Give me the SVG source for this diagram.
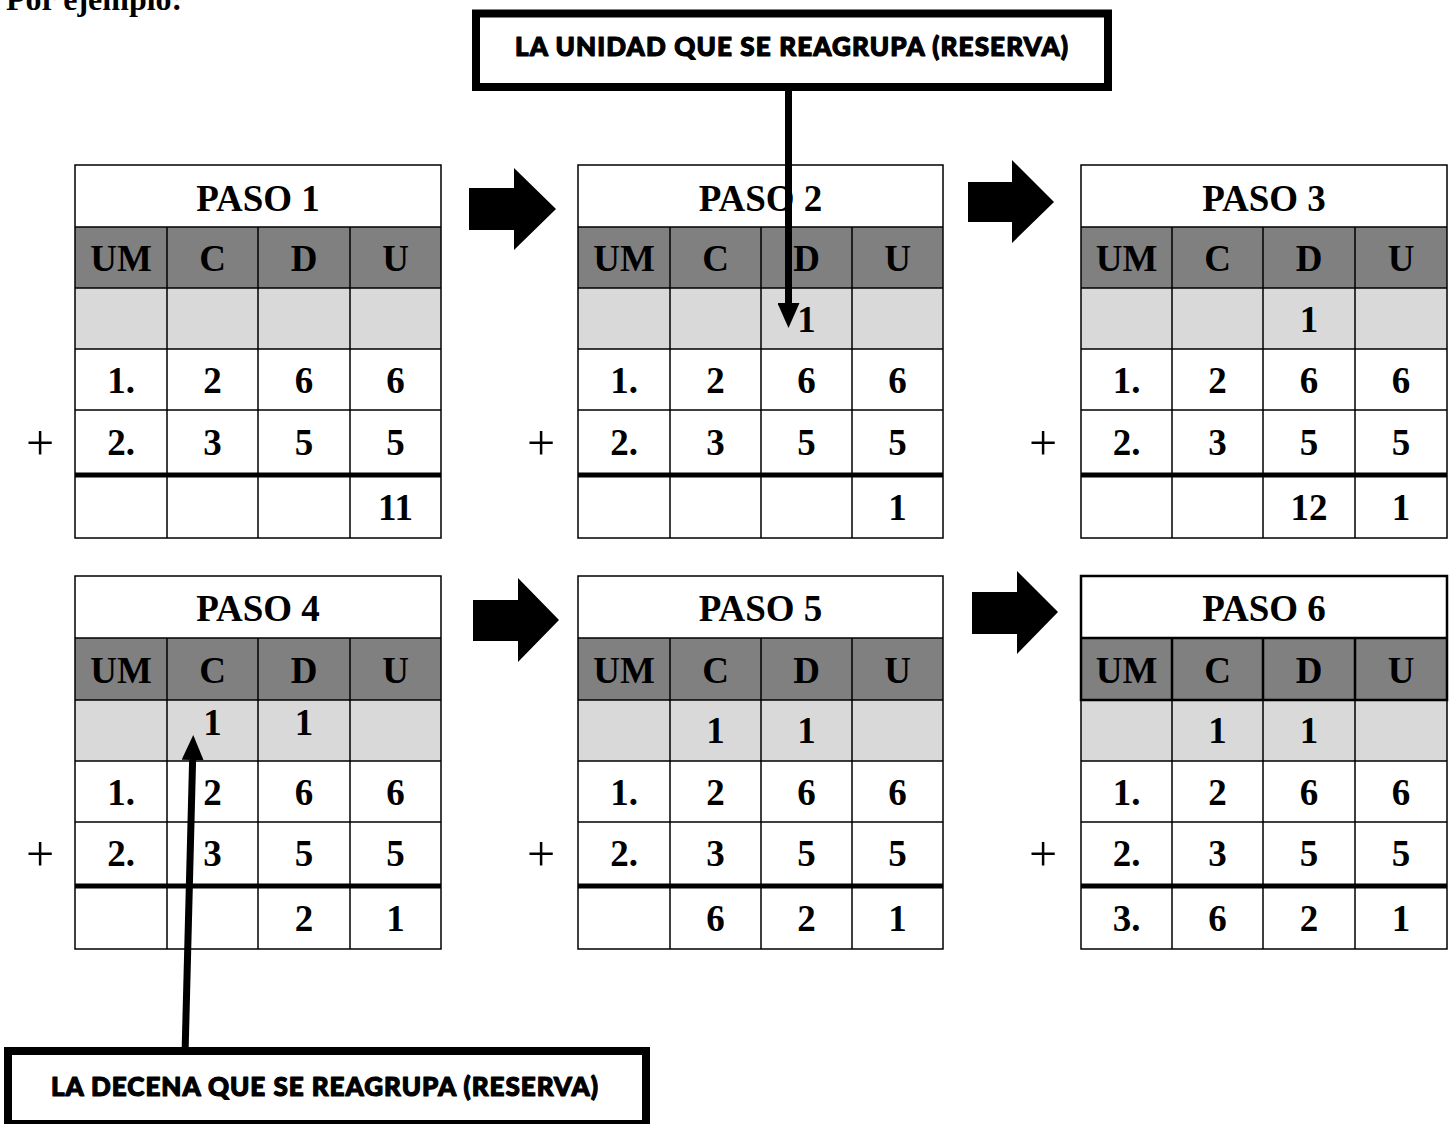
<svg xmlns="http://www.w3.org/2000/svg" width="1452" height="1124" viewBox="0 0 1452 1124">
<style>
.t{font-family:"Liberation Serif","Times New Roman",serif;font-weight:bold;font-size:37px;text-anchor:middle;fill:#000}
.plus{font-family:"Liberation Serif","Times New Roman",serif;font-size:50px;text-anchor:middle;fill:#000}
.head{font-family:"Liberation Serif","Times New Roman",serif;font-weight:bold;font-size:32px;fill:#000}
.call{font-family:Lato,"Liberation Sans",Arial,sans-serif;font-weight:900;font-size:26px;fill:#000;stroke:#000;stroke-width:1.2;stroke-linejoin:round}
.grid{fill:none;stroke:#000;stroke-width:1.5}
.gridb{fill:none;stroke:#000;stroke-width:2.5}
.thick{fill:none;stroke:#000;stroke-width:5}
.hd{fill:#808080}
.cr{fill:#d9d9d9}
.wh{fill:#fff}
.box{fill:#fff;stroke:#000;stroke-width:8}
.conn{fill:none;stroke:#000;stroke-width:7}
.blk{fill:#000}
</style>
<defs>
<marker id="ah" markerUnits="userSpaceOnUse" markerWidth="25" markerHeight="22" refX="0" refY="11" orient="auto">
<path d="M0,0 L25,11 L0,22 Z" fill="#000"/>
</marker>
</defs>
<rect width="1452" height="1124" fill="#fff"/>
<text class="head" x="6" y="10">Por ejemplo:</text>

<g id="callout-unidad">
<rect class="box" x="476" y="13.5" width="632" height="73.5"/>
<text class="call" x="515" y="55.5" textLength="553" lengthAdjust="spacing">LA UNIDAD QUE SE REAGRUPA (RESERVA)</text>
</g>

<g id="paso1">
<rect class="wh" x="75" y="165" width="366" height="373"/>
<rect class="hd" x="75" y="227" width="366" height="61"/>
<rect class="cr" x="75" y="288" width="366" height="61"/>
<path class="grid" d="M75,165H441V538H75Z M75,227H441 M75,288H441 M75,349H441 M75,410H441 M167,227V538 M258,227V538 M350,227V538"/>
<path class="thick" d="M75,475H441"/>
<text class="t" x="258" y="211">PASO 1</text>
<text class="t" x="121" y="271">UM</text><text class="t" x="212.5" y="271">C</text><text class="t" x="304" y="271">D</text><text class="t" x="395.5" y="271">U</text>
<text class="t" x="121" y="393">1.</text><text class="t" x="212.5" y="393">2</text><text class="t" x="304" y="393">6</text><text class="t" x="395.5" y="393">6</text>
<text class="t" x="121" y="455">2.</text><text class="t" x="212.5" y="455">3</text><text class="t" x="304" y="455">5</text><text class="t" x="395.5" y="455">5</text>
<text class="t" x="395.5" y="520">11</text>
<text class="plus" x="40" y="460">+</text>
</g>

<g id="paso2">
<rect class="wh" x="578" y="165" width="365" height="373"/>
<rect class="hd" x="578" y="227" width="365" height="61"/>
<rect class="cr" x="578" y="288" width="365" height="61"/>
<path class="grid" d="M578,165H943V538H578Z M578,227H943 M578,288H943 M578,349H943 M578,410H943 M670,227V538 M761,227V538 M852,227V538"/>
<path class="thick" d="M578,475H943"/>
<text class="t" x="760.5" y="211">PASO 2</text>
<text class="t" x="624" y="271">UM</text><text class="t" x="715.5" y="271">C</text><text class="t" x="806.5" y="271">D</text><text class="t" x="897.5" y="271">U</text>
<text class="t" x="806.5" y="332">1</text>
<text class="t" x="624" y="393">1.</text><text class="t" x="715.5" y="393">2</text><text class="t" x="806.5" y="393">6</text><text class="t" x="897.5" y="393">6</text>
<text class="t" x="624" y="455">2.</text><text class="t" x="715.5" y="455">3</text><text class="t" x="806.5" y="455">5</text><text class="t" x="897.5" y="455">5</text>
<text class="t" x="897.5" y="520">1</text>
<text class="plus" x="541" y="460">+</text>
</g>

<g id="paso3">
<rect class="wh" x="1081" y="165" width="366" height="373"/>
<rect class="hd" x="1081" y="227" width="366" height="61"/>
<rect class="cr" x="1081" y="288" width="366" height="61"/>
<path class="grid" d="M1081,165H1447V538H1081Z M1081,227H1447 M1081,288H1447 M1081,349H1447 M1081,410H1447 M1172,227V538 M1263,227V538 M1355,227V538"/>
<path class="thick" d="M1081,475H1447"/>
<text class="t" x="1264" y="211">PASO 3</text>
<text class="t" x="1126.5" y="271">UM</text><text class="t" x="1217.5" y="271">C</text><text class="t" x="1309" y="271">D</text><text class="t" x="1401" y="271">U</text>
<text class="t" x="1309" y="332">1</text>
<text class="t" x="1126.5" y="393">1.</text><text class="t" x="1217.5" y="393">2</text><text class="t" x="1309" y="393">6</text><text class="t" x="1401" y="393">6</text>
<text class="t" x="1126.5" y="455">2.</text><text class="t" x="1217.5" y="455">3</text><text class="t" x="1309" y="455">5</text><text class="t" x="1401" y="455">5</text>
<text class="t" x="1309" y="520">12</text><text class="t" x="1401" y="520">1</text>
<text class="plus" x="1043" y="460">+</text>
</g>

<g id="paso4">
<rect class="wh" x="75" y="576" width="366" height="373"/>
<rect class="hd" x="75" y="638" width="366" height="62"/>
<rect class="cr" x="75" y="700" width="366" height="61"/>
<path class="grid" d="M75,576H441V949H75Z M75,638H441 M75,700H441 M75,761H441 M75,822H441 M167,638V949 M258,638V949 M350,638V949"/>
<path class="thick" d="M75,886H441"/>
<text class="t" x="258" y="621">PASO 4</text>
<text class="t" x="121" y="683">UM</text><text class="t" x="212.5" y="683">C</text><text class="t" x="304" y="683">D</text><text class="t" x="395.5" y="683">U</text>
<text class="t" x="212.5" y="735">1</text><text class="t" x="304" y="735">1</text>
<text class="t" x="121" y="805">1.</text><text class="t" x="212.5" y="805">2</text><text class="t" x="304" y="805">6</text><text class="t" x="395.5" y="805">6</text>
<text class="t" x="121" y="866">2.</text><text class="t" x="212.5" y="866">3</text><text class="t" x="304" y="866">5</text><text class="t" x="395.5" y="866">5</text>
<text class="t" x="304" y="931">2</text><text class="t" x="395.5" y="931">1</text>
<text class="plus" x="40" y="871">+</text>
</g>

<g id="paso5">
<rect class="wh" x="578" y="576" width="365" height="373"/>
<rect class="hd" x="578" y="638" width="365" height="62"/>
<rect class="cr" x="578" y="700" width="365" height="61"/>
<path class="grid" d="M578,576H943V949H578Z M578,638H943 M578,700H943 M578,761H943 M578,822H943 M670,638V949 M761,638V949 M852,638V949"/>
<path class="thick" d="M578,886H943"/>
<text class="t" x="760.5" y="621">PASO 5</text>
<text class="t" x="624" y="683">UM</text><text class="t" x="715.5" y="683">C</text><text class="t" x="806.5" y="683">D</text><text class="t" x="897.5" y="683">U</text>
<text class="t" x="715.5" y="743">1</text><text class="t" x="806.5" y="743">1</text>
<text class="t" x="624" y="805">1.</text><text class="t" x="715.5" y="805">2</text><text class="t" x="806.5" y="805">6</text><text class="t" x="897.5" y="805">6</text>
<text class="t" x="624" y="866">2.</text><text class="t" x="715.5" y="866">3</text><text class="t" x="806.5" y="866">5</text><text class="t" x="897.5" y="866">5</text>
<text class="t" x="715.5" y="931">6</text><text class="t" x="806.5" y="931">2</text><text class="t" x="897.5" y="931">1</text>
<text class="plus" x="541" y="871">+</text>
</g>

<g id="paso6">
<rect class="wh" x="1081" y="576" width="366" height="373"/>
<rect class="hd" x="1081" y="638" width="366" height="62"/>
<rect class="cr" x="1081" y="700" width="366" height="61"/>
<path class="grid" d="M1081,576H1447V949H1081Z M1081,761H1447 M1081,822H1447 M1172,638V949 M1263,638V949 M1355,638V949"/>
<path class="gridb" d="M1081,576H1447V700H1081Z M1081,638H1447 M1172,638V700 M1263,638V700 M1355,638V700"/>
<path class="thick" d="M1081,886H1447"/>
<text class="t" x="1264" y="621">PASO 6</text>
<text class="t" x="1126.5" y="683">UM</text><text class="t" x="1217.5" y="683">C</text><text class="t" x="1309" y="683">D</text><text class="t" x="1401" y="683">U</text>
<text class="t" x="1217.5" y="743">1</text><text class="t" x="1309" y="743">1</text>
<text class="t" x="1126.5" y="805">1.</text><text class="t" x="1217.5" y="805">2</text><text class="t" x="1309" y="805">6</text><text class="t" x="1401" y="805">6</text>
<text class="t" x="1126.5" y="866">2.</text><text class="t" x="1217.5" y="866">3</text><text class="t" x="1309" y="866">5</text><text class="t" x="1401" y="866">5</text>
<text class="t" x="1126.5" y="931">3.</text><text class="t" x="1217.5" y="931">6</text><text class="t" x="1309" y="931">2</text><text class="t" x="1401" y="931">1</text>
<text class="plus" x="1043" y="871">+</text>
</g>

<g id="callout-decena">
<rect class="box" x="8" y="1051" width="638" height="73"/>
<text class="call" x="51" y="1095.5" textLength="547" lengthAdjust="spacing">LA DECENA QUE SE REAGRUPA (RESERVA)</text>
</g>

<g id="connectors">
<polygon class="blk" points="469,188 514,188 514,168 556,209 514,250 514,230 469,230"/>
<polygon class="blk" points="968,182 1012,182 1012,160 1054,202 1012,243 1012,222 968,222"/>
<polygon class="blk" points="473,600 518,600 518,578 559,620 518,662 518,641 473,641"/>
<polygon class="blk" points="972,592 1017,592 1017,571 1058,612 1017,654 1017,634 972,634"/>
<line class="conn" x1="788.5" y1="87" x2="788.5" y2="303" marker-end="url(#ah)"/>
<line class="conn" x1="185" y1="1055" x2="192.6" y2="760" marker-end="url(#ah)"/>
</g>
</svg>
